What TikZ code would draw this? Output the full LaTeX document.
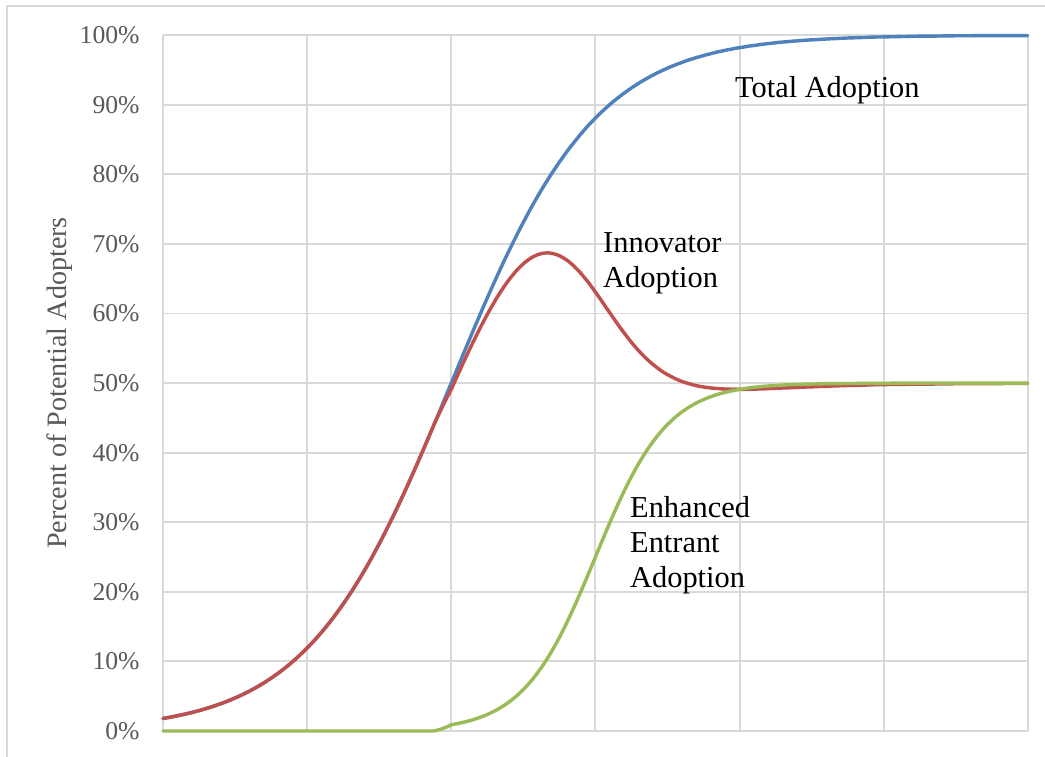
\documentclass[tikz,border=0pt]{standalone}
\usepackage{fontspec}
\setmainfont{Liberation Serif}
\definecolor{gridgray}{HTML}{D9D9D9}
\definecolor{ticktext}{HTML}{595959}
\definecolor{totalblue}{HTML}{4F81BD}
\definecolor{innovred}{HTML}{C0504D}
\definecolor{entrantgreen}{HTML}{9BBB59}
\tikzset{
  gridline/.style={draw=gridgray, line width=1.1pt},
  ticklabel/.style={anchor=east, inner sep=0pt, text=ticktext, font=\fontsize{14.6}{16}\selectfont},
  axislabel/.style={inner sep=0pt, text=ticktext, rotate=90, font=\fontsize{16}{18}\selectfont},
  serieslabel/.style={anchor=west, inner sep=0pt, align=left, text=black, font=\fontsize{17.3}{19.8}\selectfont},
  curve/.style={line width=1.95pt, line join=round, line cap=round},
}
\begin{document}
\begin{tikzpicture}[x=0.02cm, y=0.02cm]
\useasboundingbox (0,0) rectangle (1045,757);
\fill[white] (0,0) rectangle (1045,757);
% outer chart frame (continues past the right and bottom edges)
\draw[gridgray, line width=1.1pt] (7,-5) -- (7,751) -- (1050,751);
\begin{scope}[shift={(3.26cm,0.52cm)}, x=2.8834cm, y=13.92cm,
  declare function={
    ramp(\t)=min(1,max(0,(\t-1.88)/0.12));
    entrant(\t)=ramp(\t)*0.5/(1+exp(-4*(max(\t,1.8)-3)));
    total(\t)=1/(1+exp(-2*(\t-2)));
  }]
  % grid
  \foreach \i in {0,...,6} { \draw[gridline] (\i,0) -- (\i,1); }
  \foreach \j in {0,...,10} { \draw[gridline] (0,\j/10) -- (6,\j/10); }
  % tick labels
  \foreach \j in {0,...,10} {
    \pgfmathtruncatemacro{\pct}{\j*10}
    \node[ticklabel] (tick\j) at (-0.16,\j/10) {\pct\%};
  }
  \node[axislabel] (ylabel) at (-0.714,0.5) {Percent of Potential Adopters};
  % curves
  \draw[curve, totalblue] plot[domain=0:6, samples=241, smooth] (\x, {total(\x)});
  \draw[curve, innovred] plot[domain=0:6, samples=241, smooth] (\x, {total(\x)-entrant(\x)});
  \draw[curve, entrantgreen] plot[domain=0:6, samples=241, smooth] (\x, {entrant(\x)});
  % series labels
  \node[serieslabel] (total) at (3.967,0.921) {Total Adoption};
  \node[serieslabel] (innov) at (3.052,0.672) {Innovator\\Adoption};
  \node[serieslabel] (entrant) at (3.239,0.2673) {Enhanced\\Entrant\\Adoption};
\end{scope}
\end{tikzpicture}
\end{document}
